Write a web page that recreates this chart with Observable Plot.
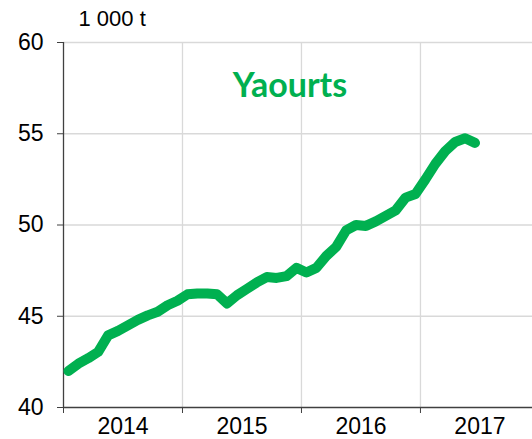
<!DOCTYPE html>
<html>
<head>
<meta charset="utf-8">
<script src="https://cdn.jsdelivr.net/npm/d3@7"></script>
<script src="https://cdn.jsdelivr.net/npm/@observablehq/plot@0.6"></script>
<style>
  html, body { margin: 0; padding: 0; background: #fff; overflow: hidden; }
  #chart svg { display: block; }
</style>
</head>
<body>
<div id="chart"></div>
<script>
// Monthly values (1 000 t), starting January 2014
const values = [
  42.0, 42.4, 42.7, 43.05, 43.95, 44.2, 44.5, 44.8, 45.05, 45.25, 45.6, 45.85,
  46.2, 46.25, 46.25, 46.2, 45.7, 46.15, 46.5, 46.85, 47.15, 47.1, 47.2, 47.65,
  47.4, 47.65, 48.3, 48.8, 49.7, 50.0, 49.95, 50.2, 50.5, 50.8, 51.5, 51.7,
  52.5, 53.35, 54.05, 54.55, 54.75, 54.5
];
const years = ["2014", "2015", "2016", "2017"];
const yTicks = [40, 45, 50, 55, 60];
const title = "Yaourts";
const unit = "1 000 t";

const data = values.map((v, i) => ({month: i + 0.5, value: v}));
const yearStarts = years.map((y, i) => i * 12);
const yearMids = years.map((y, i) => i * 12 + 6);

const green = "#00b050";
const grid = "#d9d9d9";
const axisColor = "#404040";

const chart = Plot.plot({
  width: 532,
  height: 439,
  marginLeft: 63,
  marginRight: 0,
  marginTop: 42,
  marginBottom: 32,
  style: {fontFamily: "'Liberation Sans', Arial, sans-serif", color: "#000", background: "#fff"},
  x: {type: "linear", domain: [0, 47.3]},
  y: {domain: [40, 60]},
  marks: [
    Plot.gridY(yTicks.slice(1), {stroke: grid, strokeOpacity: 1, strokeWidth: 1.3}),
    Plot.gridX(yearStarts.slice(1), {stroke: grid, strokeOpacity: 1, strokeWidth: 1.3}),
    Plot.axisY({ticks: yTicks, tickSize: 6, tickPadding: 14, fontSize: 23, stroke: axisColor, label: null, tickFormat: d => String(d)}),
    Plot.axisX({ticks: yearStarts, tickSize: 6, stroke: axisColor, tickFormat: () => "", label: null}),
    Plot.axisX({ticks: yearMids, tickSize: 0, tickPadding: 10, fontSize: 23, label: null,
      tickFormat: d => years[Math.round((d - 6) / 12)]}),
    Plot.ruleX([0], {stroke: axisColor, strokeWidth: 1.3}),
    Plot.ruleY([40], {stroke: axisColor, strokeWidth: 1.3}),
    Plot.line(data, {x: "month", y: "value", stroke: green, strokeWidth: 10, strokeLinecap: "round", strokeLinejoin: "round"}),
    Plot.text([title], {frameAnchor: "top", dx: -8, dy: 44, text: d => d, fill: green,
      fontSize: 34, fontWeight: "bold", fontFamily: "Lato, 'Open Sans', sans-serif", textAnchor: "middle", lineAnchor: "middle"}),
    Plot.text([unit], {frameAnchor: "top-left", dx: 15, dy: -24, text: d => d, fill: "#000",
      fontSize: 22, textAnchor: "start", lineAnchor: "middle"})
  ]
});
document.getElementById("chart").appendChild(chart);
</script>
</body>
</html>
